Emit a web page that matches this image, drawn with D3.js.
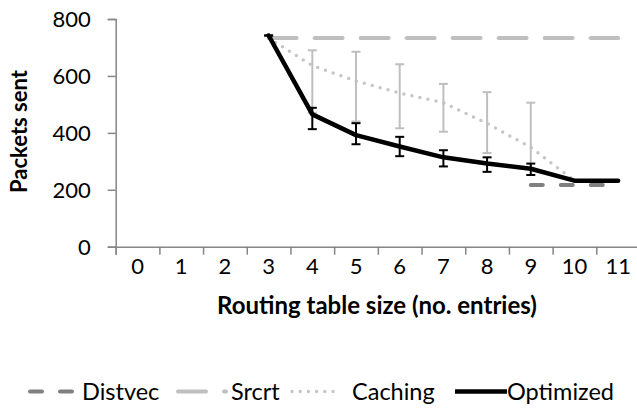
<!DOCTYPE html>
<html>
<head>
<meta charset="utf-8">
<script src="https://cdn.jsdelivr.net/npm/d3@7"></script>
<style>
  body { margin: 0; background: #fff; }
  text { font-family: Lato, "Open Sans", sans-serif; fill: #000; }
</style>
</head>
<body>
<svg class="chart-svg" width="637" height="409"></svg>
<script>
var categories = [0, 1, 2, 3, 4, 5, 6, 7, 8, 9, 10, 11];
var yTicks = [0, 200, 400, 600, 800];

// series values, indexed by routing table size (null = no point)
var distvec   = [null, null, null, null, null, null, null, null, null, 217, 217, 217];
var srcrt     = [null, null, null, 733, 733, 733, 733, 733, 733, 733, 733, 733];
var caching   = [null, null, null, 733, 636, 582, 540, 506, 433, 349, 232, null];
var optimized = [null, null, null, 742, 465, 392, 352, 314, 292, 274, 232, 232];

// error bar ends
var cachingHigh   = [null, null, null, null, 690, 685, 641, 572, 543, 506, null, null];
var cachingLow    = [null, null, null, null, 470, 440, 416, 404, 329, 275, null, null];
var optimizedHigh = [null, null, null, 742, 488, 434, 386, 339, 314, 292, null, null];
var optimizedLow  = [null, null, null, 742, 413, 360, 318, 282, 263, 252, null, null];

var legendNames = ["Distvec", "Srcrt", "Caching", "Optimized"];

var svg = d3.select(".chart-svg");

var x = d3.scaleBand().domain(categories).range([115.7, 640]);
var y = d3.scaleLinear().domain([0, 800]).range([246.7, 19]);
var xEdge = d3.scaleLinear().domain([0, categories.length]).range(x.range());

function cx(i) { return x(categories[i]) + x.bandwidth() / 2; }

// axes
var yAxis = svg.append("g")
    .attr("transform", "translate(115.7,0)")
    .call(d3.axisLeft(y).tickValues(yTicks).tickSize(8).tickPadding(17));
var xTicks = svg.append("g")
    .attr("transform", "translate(0,246.7)")
    .call(d3.axisBottom(xEdge).tickValues(d3.range(categories.length + 1)).tickSize(8).tickFormat(""));
var xLabels = svg.append("g")
    .attr("transform", "translate(0,246.7)")
    .call(d3.axisBottom(x).tickSize(0).tickPadding(0));

svg.selectAll(".domain, .tick line")
    .attr("stroke", "#868686")
    .attr("stroke-width", 1.5);
xLabels.select(".domain").remove();
yAxis.selectAll("text").attr("font-size", 22).attr("dy", "0.36em");
xLabels.selectAll("text")
    .attr("font-size", 22)
    .attr("y", 19.5)
    .attr("dy", "0.36em");
svg.selectAll(".tick text").style("font-family", "Lato, 'Open Sans', sans-serif");

function lineFor(values) {
    return d3.line()
        .defined(function(d) { return d != null; })
        .x(function(d, i) { return cx(i); })
        .y(function(d) { return y(d); })(values);
}

function errorBars(high, low, color, width) {
    var idx = d3.range(categories.length).filter(function(i) { return high[i] != null; });
    var g = svg.append("g").attr("stroke", color).attr("stroke-width", width);
    g.selectAll(".bar").data(idx).enter().append("line")
        .attr("x1", cx).attr("x2", cx)
        .attr("y1", function(i) { return y(high[i]); })
        .attr("y2", function(i) { return y(low[i]); });
    g.selectAll(".capHi").data(idx).enter().append("line")
        .attr("x1", function(i) { return cx(i) - 4.5; })
        .attr("x2", function(i) { return cx(i) + 4.5; })
        .attr("y1", function(i) { return y(high[i]); })
        .attr("y2", function(i) { return y(high[i]); });
    g.selectAll(".capLo").data(idx).enter().append("line")
        .attr("x1", function(i) { return cx(i) - 4.5; })
        .attr("x2", function(i) { return cx(i) + 4.5; })
        .attr("y1", function(i) { return y(low[i]); })
        .attr("y2", function(i) { return y(low[i]); });
}

var styles = [
    {values: distvec, color: "#808080", width: 4, dash: "12,18", cap: "round"},
    {values: srcrt, color: "#bfbfbf", width: 4, dash: "28,18", cap: "round"},
    {values: caching, color: "#c6c6c6", width: 3.5, dash: "0,8.2", cap: "round"},
    {values: optimized, color: "#000", width: 4.5, dash: null, cap: "round"}
];

// series lines
styles.forEach(function(s, k) {
    if (k == 3) errorBars(cachingHigh, cachingLow, "#bfbfbf", 2);
    svg.append("path")
        .attr("d", lineFor(s.values))
        .attr("fill", "none")
        .attr("stroke", s.color)
        .attr("stroke-width", s.width)
        .attr("stroke-dasharray", s.dash)
        .attr("stroke-linecap", s.cap)
        .attr("stroke-linejoin", "round");
});
errorBars(optimizedHigh, optimizedLow, "#000", 2);

// axis titles
svg.append("text")
    .attr("transform", "translate(19.5,131.5) rotate(-90)")
    .attr("text-anchor", "middle")
    .attr("dy", "0.36em")
    .attr("font-size", 22)
    .attr("font-weight", "bold")
    .text("Packets sent");
svg.append("text")
    .attr("x", 377)
    .attr("y", 305)
    .attr("text-anchor", "middle")
    .attr("dy", "0.36em")
    .attr("font-size", 24)
    .attr("font-weight", "bold")
    .text("Routing table size (no. entries)");

// legend
var legendLines = [[30, 76], [178, 226], [292, 340], [455, 507]];
var legendText = [82, 231, 352, 507];
var legend = svg.selectAll(".legend").data(legendNames).enter().append("g");
legend.append("line")
    .attr("x1", function(d, i) { return legendLines[i][0]; })
    .attr("x2", function(d, i) { return legendLines[i][1]; })
    .attr("y1", 391.5).attr("y2", 391.5)
    .attr("stroke", function(d, i) { return styles[i].color; })
    .attr("stroke-width", function(d, i) { return styles[i].width; })
    .attr("stroke-dasharray", function(d, i) { return styles[i].dash; })
    .attr("stroke-linecap", function(d, i) { return i == 3 ? "butt" : "round"; });
legend.append("text")
    .attr("x", function(d, i) { return legendText[i]; })
    .attr("y", 391.5)
    .attr("dy", "0.36em")
    .attr("font-size", 23.5)
    .text(function(d) { return d; });
</script>
</body>
</html>
